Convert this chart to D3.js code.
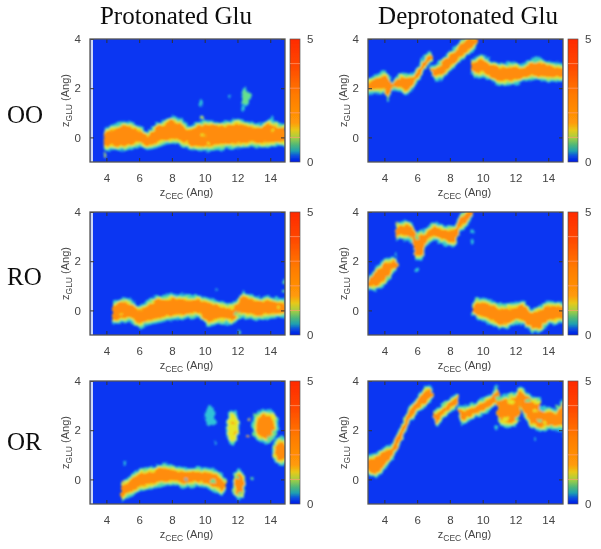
<!DOCTYPE html>
<html><head><meta charset="utf-8">
<script src="https://cdn.jsdelivr.net/npm/d3@7"></script>
<style>html,body{margin:0;padding:0;background:#fff;overflow:hidden}svg{display:block}</style>
</head><body><svg id="c" width="601" height="549"></svg>
<script>
const columnTitles = ["Protonated Glu", "Deprotonated Glu"];
const rowLabels = ["OO", "RO", "OR"];
const xTicks = [4, 6, 8, 10, 12, 14];
const yTicks = [0, 2, 4];
const zTicks = [0, 5];

// density ridges: [x, lower edge, upper edge]
const ooProtonated = [[
 [3.85,-.5,.3],[4,-.55,.42],[4.5,-.5,.55],[5,-.58,.7],[5.5,-.5,.62],[6,-.38,.5],[6.5,-.52,.25],[7,-.45,.57],[7.5,-.33,.72],[8,-.25,.9],[8.5,-.32,.77],[9,-.5,.5],[9.5,-.55,.6],[10,-.58,.72],[10.5,-.55,.68],[11,-.5,.63],[11.5,-.48,.7],[12,-.45,.77],[12.5,-.42,.68],[13,-.4,.57],[13.5,-.42,.62],[14,-.4,.77],[14.5,-.38,.6],[14.95,-.4,.57]]];
const roProtonated = [[
 [4.35,-.54,.4],[5,-.54,.54],[5.5,-.47,.47],[6,-.75,.2],[6.5,-.62,.4],[7,-.54,.6],[8,-.4,.68],[9,-.34,.64],[9.7,-.3,.62],[10.2,-.68,.52],[11,-.54,.34],[11.7,-.6,.3],[12.1,-.34,.55],[12.3,-.3,.8],[13,-.4,.58],[14,-.34,.58],[14.95,-.3,.47]]];
const orProtonated = [[
 [4.9,-.9,-.1],[5.5,-.7,.17],[6,-.5,.45],[7,-.36,.54],[7.5,-.3,.7],[8,-.23,.58],[8.8,-.36,.5],[9.5,-.3,.5],[10,-.33,.5],[10.5,-.5,.44],[11,-.63,.25],[11.3,-.5,0]]];
const ooDeprotonated = [
 [[2.9,1.7,2.4],[3.5,1.78,2.57],[4,1.78,2.73],[4.2,1.45,2.6],[4.5,1.9,2.26],[5,1.85,2.66],[5.3,1.7,2.62],[5.7,1.9,2.62],[6,2.2,2.86],[6.5,2.73,3.4],[6.8,3,3.54],[6.95,3.15,3.3]],
 [[6.8,2.66,2.93],[7.1,2.3,2.95],[7.5,2.32,3.2],[8,2.66,3.54],[8.5,3,3.8],[9,3.27,4.2],[9.5,3.54,4.2],[9.65,3.7,4.2]],
 [[9.3,2.66,3.13],[9.5,2.4,3.3],[10,2.46,3.38],[10.5,2.26,3.13],[11,2.08,3.03],[12,2.12,3.07],[12.5,2.26,3],[13,2.32,3.24],[13.5,2.3,3.24],[14,2.26,3.1],[14.95,2.26,3]]];
const roDeprotonated = [
 [[2.9,.85,1.2],[3.5,.8,1.8],[4,.95,2.1],[4.5,1.5,2.2],[4.8,1.6,2]],
 [[4.7,2.84,3.55],[5.3,2.84,3.67],[5.7,2.77,3.58],[5.9,2.03,3.2],[6.3,2.03,3.25],[6.6,2.64,3.4],[7,2.84,3.58],[8,2.57,3.45],[8.3,2.57,3.5],[8.6,3.18,3.85],[9,3.38,4.2],[9.4,3.8,4.2]],
 [[9.35,-.2,.27],[9.7,-.38,.54],[10.2,-.5,.5],[11,-.74,.27],[11.5,-.74,.3],[12,-.54,.34],[12.5,-.6,.4],[13,-.95,.07],[13.5,-.88,.2],[14,-.6,.4],[14.95,-.54,.34]]];
const orDeprotonated = [
 [[2.9,.23,.98],[3.5,.03,1.1],[4,.37,1.32],[4.5,.78,1.52],[5,1.45,2.2],[5.5,2.2,2.95],[6,2.68,3.4],[6.5,2.95,3.78],[6.8,3.15,3.85],[7,3.3,3.55]],
 [[7,2.5,2.8],[7.2,2.07,2.9],[7.5,2.4,3.07],[8,2.68,3.3],[8.4,2.9,3.55],[8.55,3.3,3.5]],
 [[8.5,2.6,3],[8.7,2.2,3],[9,2.27,3],[9.5,2.48,3.15],[10,2.6,3.3],[10.5,2.82,3.5],[10.9,3,3.85],[11,3.1,3.5]],
 [[10.9,2.48,3.47],[11,2.2,3.4],[11.5,2.07,3.47],[12,2.13,3.55],[12.25,2.5,3.8]],
 [[12.2,3,3.8],[12.5,2.55,3.72],[13,2.07,3.38],[13.5,1.93,3.3]],
 [[13.4,1.93,3],[14,2,2.93],[14.5,2,2.86],[14.95,1.95,3.3]]];

// isolated blobs: [x, y, x radius, y radius, highest colour level]
const ooProtonatedBlobs = [[12.5,1.65,.28,.38,1],[12.35,1.2,.1,.12,0],[9.75,1.4,.13,.15,0],[11.5,1.65,.08,.08,0],[3.9,-.72,.09,.1,2],[9.8,.8,.1,.09,2],[14.1,.75,.1,.15,0]];
const roProtonatedBlobs = [[14.85,1.15,.08,.09,1],[14.85,.8,.07,.08,1],[12.1,-.9,.1,.09,1],[10.7,.85,.05,.05,0]];
const orProtonatedBlobs = [[12.1,-.2,.42,.65,3],[10.3,2.6,.3,.42,0],[10.55,2.35,.2,.15,0],[10.65,1.5,.08,.08,0],[11.7,2.1,.42,.72,2],[13.7,2.15,.82,.72,3],[14.65,1.15,.55,.6,3],[12.7,2.45,.08,.08,3],[12.6,1.75,.08,.08,3],[5,-.1,.08,.08,3],[12.95,.05,.08,.08,1],[5.1,.65,.1,.1,0]];
const ooDeprotonatedBlobs = [];
const roDeprotonatedBlobs = [[6,1.65,.1,.08,0],[9.35,2.8,.1,.12,0],[9.35,3.2,.1,.1,0],[4.75,3.55,.09,.07,3],[4.7,3.25,.09,.07,3],[4.75,2.95,.09,.07,3],[4.8,1.85,.09,.08,3],[4.75,2.25,.05,.12,0]];
const orDeprotonatedBlobs = [[10.85,2.1,.1,.1,0],[13.2,1.65,.05,.1,0],[14.9,1.75,.05,.08,0]];

// mottled patches on top of the ridges: [x, y, radius, colour level]
const ooProtonatedPatches = [[9.9,.1,.1,2],[10.2,-.25,.1,2],[8.9,-.2,.1,2],[14.2,.3,.1,2]];
const roProtonatedPatches = [[4.9,-.15,.1,2],[11.9,-.15,.12,1],[12.15,-.1,.08,1],[14.5,.15,.08,2]];
const orProtonatedPatches = [[8.85,0,.09,0],[8.9,-.2,.07,1],[10.55,-.05,.12,1],[10.4,-.3,.1,2],[12.15,-.55,.12,1],[12,.1,.12,1],[13.1,2.6,.15,1],[14,1.65,.2,1],[14.2,2.55,.15,2],[13,1.85,.18,1],[13.7,1.5,.15,0],[14.25,1.9,.15,1],[11.8,1.9,.08,3],[11.75,2.3,.08,3],[14.25,.95,.12,2]];
const ooDeprotonatedPatches = [[3.1,2.15,.1,3]];
const roDeprotonatedPatches = [[5.55,2.95,.12,1],[5.95,2.95,.14,1],[4.25,1.35,.08,1],[3.9,1.2,.08,2]];
const orDeprotonatedPatches = [[11,3.3,.18,1],[11.7,3.15,.2,2],[12.1,2.45,.15,1],[11.35,2.45,.2,2],[12.75,3.2,.12,1],[13.2,2.8,.14,2],[13.45,2.4,.12,1],[13.8,2.3,.12,2],[13.65,2.85,.14,0],[14.5,2.95,.14,1],[14.15,2.15,.12,1],[14.85,2.15,.12,2]];

const colorStops = [[0,"#0018e8"],[.05,"#0a50e0"],[.09,"#20a0b0"],[.14,"#50b878"],[.2,"#a8d040"],[.26,"#e8c818"],[.32,"#ff9a08"],[.55,"#ff7a00"],[.78,"#ff4800"],[1,"#ff2a00"]];
const layerColors = ["#2fc4d8", "#66e08c", "#e6e626", "#ff8c0c"];
const layerInset = [0, .07, .13, .2];
const blobScale = [1, .88, .78, .66];

const panels = [
 {col:0,row:0,bands:ooProtonated,blobs:ooProtonatedBlobs,patches:ooProtonatedPatches},
 {col:1,row:0,bands:ooDeprotonated,blobs:ooDeprotonatedBlobs,patches:ooDeprotonatedPatches},
 {col:0,row:1,bands:roProtonated,blobs:roProtonatedBlobs,patches:roProtonatedPatches},
 {col:1,row:1,bands:roDeprotonated,blobs:roDeprotonatedBlobs,patches:roDeprotonatedPatches},
 {col:0,row:2,bands:orProtonated,blobs:orProtonatedBlobs,patches:orProtonatedPatches},
 {col:1,row:2,bands:orDeprotonated,blobs:orDeprotonatedBlobs,patches:orDeprotonatedPatches}];

const colLeft = [90, 368], rowTop = [39, 212, 381], pw = 195, ph = 123, barGap = 5, barW = 10;
const INK = "#444", FONT = "'Liberation Sans',Arial,sans-serif", SERIF = "'Liberation Serif','Times New Roman',serif";

const svg = d3.select("#c");
const defs = svg.append("defs");
const soft = defs.append("filter").attr("id","soft").attr("x","-5%").attr("y","-5%").attr("width","110%").attr("height","110%");
soft.append("feTurbulence").attr("type","fractalNoise").attr("baseFrequency",.2).attr("numOctaves",2).attr("seed",4).attr("result","n");
soft.append("feDisplacementMap").attr("in","SourceGraphic").attr("in2","n").attr("scale",5).attr("xChannelSelector","R").attr("yChannelSelector","G").attr("result","d");
soft.append("feGaussianBlur").attr("in","d").attr("stdDeviation",1);
defs.append("filter").attr("id","textsoft").append("feGaussianBlur").attr("stdDeviation",.35);
const grad = defs.append("linearGradient").attr("id","cb").attr("x1",0).attr("x2",0).attr("y1",1).attr("y2",0);
colorStops.forEach(s => grad.append("stop").attr("offset",s[0]).attr("stop-color",s[1]));

const x = d3.scaleLinear().domain([3,14.9]).range([0,pw]);
const y = d3.scaleLinear().domain([-1,4]).range([ph,0]);
const z = d3.scaleLinear().domain([0,5]).range([ph,0]);
const inset = (d,lv) => Math.min(layerInset[lv], (d[2]-d[1])*.32);

panels.forEach((p,i) => {
  const g = svg.append("g").attr("transform",`translate(${colLeft[p.col]},${rowTop[p.row]})`);
  const clip = "clip"+i;
  defs.append("clipPath").attr("id",clip).append("rect").attr("width",pw).attr("height",ph);
  g.append("rect").attr("width",pw).attr("height",ph).attr("fill","#0b36f2");
  if (p.col===0) g.append("rect").attr("x",.5).attr("width",2.5).attr("height",ph).attr("fill","#cdd8f6");
  const marks = g.append("g").attr("clip-path",`url(#${clip})`).append("g").attr("filter","url(#soft)");
  layerColors.forEach((color,lv) => {
    const area = d3.area().x(d=>x(d[0]))
      .y0(d=>y(d[1]+inset(d,lv)))
      .y1(d=>y(d[2]-inset(d,lv)))
      .curve(d3.curveLinear);
    marks.selectAll(null).data(p.bands).join("path").attr("d",area).attr("fill",color);
    marks.selectAll(null).data(p.blobs.filter(b=>b[4]>=lv)).join("ellipse")
      .attr("cx",b=>x(b[0])).attr("cy",b=>y(b[1]))
      .attr("rx",b=>(x(b[2])-x(0))*blobScale[lv])
      .attr("ry",b=>(y(0)-y(b[3]))*blobScale[lv])
      .attr("fill",color);
  });
  marks.selectAll(null).data(p.patches).join("ellipse")
    .attr("cx",b=>x(b[0])).attr("cy",b=>y(b[1]))
    .attr("rx",b=>x(b[2])-x(0)).attr("ry",b=>(x(b[2])-x(0))*.9)
    .attr("fill",b=>layerColors[b[3]]);
  const axes = g.append("g").attr("filter","url(#textsoft)");
  const style = a => { a.select(".domain").remove();
    a.selectAll("line").attr("stroke","#333").attr("stroke-width",1);
    a.selectAll("text").attr("fill",INK).attr("font-family",FONT).attr("font-size",11.5); };
  axes.append("g").attr("transform",`translate(0,${ph})`).call(d3.axisBottom(x).tickValues(xTicks).tickFormat(d3.format("d")).tickSizeInner(-4).tickPadding(12)).call(style);
  axes.append("g").call(d3.axisTop(x).tickValues(xTicks).tickFormat("").tickSizeInner(-4)).call(style);
  axes.append("g").call(d3.axisLeft(y).tickValues(yTicks).tickFormat(d3.format("d")).tickSizeInner(-4).tickPadding(9)).call(style);
  axes.append("g").attr("transform",`translate(${pw},0)`).call(d3.axisRight(y).tickValues(yTicks).tickFormat("").tickSizeInner(-4)).call(style);
  axes.append("rect").attr("width",pw).attr("height",ph).attr("fill","none").attr("stroke","#555").attr("stroke-width",1.3);
  const xl = axes.append("text").attr("x",pw/2-1).attr("y",ph+34).attr("text-anchor","middle").attr("fill",INK).attr("font-family",FONT).attr("font-size",11);
  xl.append("tspan").text("z");
  xl.append("tspan").text("CEC").attr("font-size",8.5).attr("dy",3);
  xl.append("tspan").text(" (Ang)").attr("dy",-3);
  const yl = axes.append("text").attr("transform",`translate(-21,${ph/2}) rotate(-90)`).attr("text-anchor","middle").attr("fill",INK).attr("font-family",FONT).attr("font-size",11);
  yl.append("tspan").text("z");
  yl.append("tspan").text("GLU").attr("font-size",8.5).attr("dy",3);
  yl.append("tspan").text(" (Ang)").attr("dy",-3);
  const bar = g.append("g").attr("transform",`translate(${pw+barGap},0)`).attr("filter","url(#textsoft)");
  bar.append("rect").attr("width",barW).attr("height",ph).attr("fill","url(#cb)").attr("stroke","#555").attr("stroke-width",.7);
  bar.selectAll(null).data([1,2,3,4]).join("line").attr("x1",0).attr("x2",barW).attr("y1",d=>z(d)).attr("y2",d=>z(d)).attr("stroke","#ff9c70").attr("stroke-width",.7);
  bar.selectAll(null).data(zTicks).join("text").attr("x",barW+7).attr("y",d=>z(d)+4).text(d=>d)
    .attr("fill",INK).attr("font-family",FONT).attr("font-size",11.5);
});

const labels = svg.append("g").attr("filter","url(#textsoft)").attr("fill","#111").attr("font-family",SERIF);
labels.selectAll(null).data(columnTitles).join("text").text(d=>d)
  .attr("x",(d,i)=>colLeft[i]+[86,100][i]).attr("y",24).attr("text-anchor","middle").attr("font-size",25);
labels.selectAll(null).data(rowLabels).join("text").text(d=>d)
  .attr("x",7).attr("y",(d,i)=>[123,285,450][i]).attr("font-size",25);
</script></body></html>
